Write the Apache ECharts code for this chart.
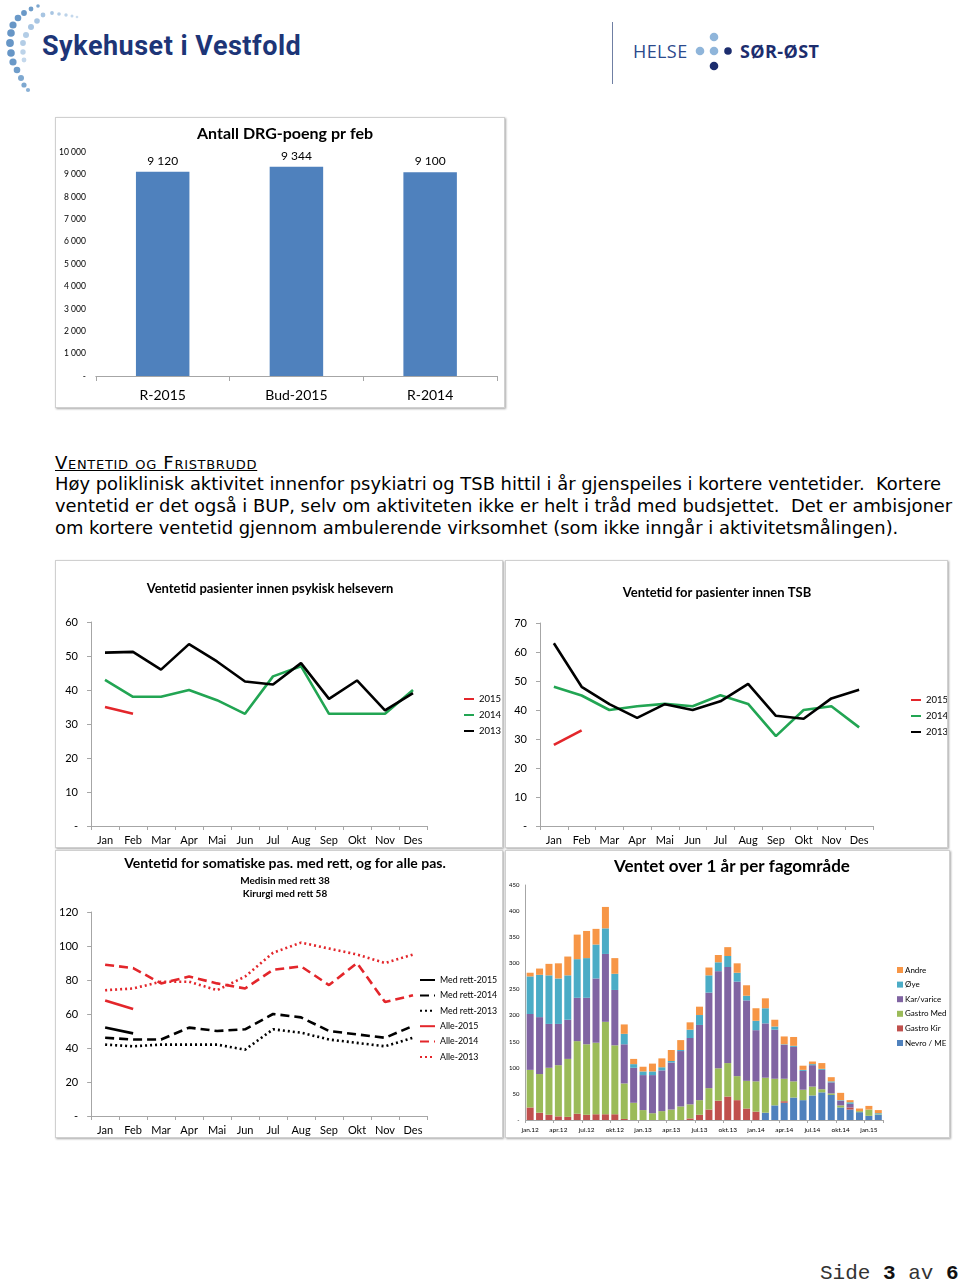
<!DOCTYPE html>
<html><head><meta charset="utf-8">
<script src="https://cdn.jsdelivr.net/npm/echarts@6/dist/echarts.min.js"></script>
<style>
html,body{margin:0;padding:0;background:#fff}
body{width:960px;height:1280px;position:relative;overflow:hidden;font-family:Lato,sans-serif}
.box{position:absolute;border:1px solid #d0d0d0;box-shadow:1px 1px 2px #a8a8a8;box-sizing:border-box;background:#fff}
.abs{position:absolute;white-space:pre}
</style></head><body>

<svg class="abs" style="left:0;top:0" width="90" height="100" id="logoDots"></svg>
<div class="abs" style="left:42px;top:30px;font:bold 27px Roboto,sans-serif;color:#1d3577;letter-spacing:0.5px">Sykehuset i Vestfold</div>
<div class="abs" style="left:612px;top:22px;width:1px;height:62px;background:#6f7fa3"></div>
<div class="abs" style="left:633px;top:40px;font:18px 'Open Sans',sans-serif;color:#2c4a8c;line-height:22px;letter-spacing:0.4px">HELSE</div>
<svg class="abs" style="left:690px;top:28px" width="50" height="48">
<circle cx="10" cy="23" r="4.3" fill="#8fb5da"/><circle cx="24" cy="23" r="4.3" fill="#8fb5da"/><circle cx="38" cy="23" r="3.8" fill="#1c2d6e"/>
<circle cx="24" cy="9" r="4.3" fill="#8fb5da"/><circle cx="24" cy="38" r="4.3" fill="#1c2d6e"/></svg>
<div class="abs" style="left:740px;top:40px;font:bold 18px 'Open Sans',sans-serif;color:#1c2d6e;line-height:22px;letter-spacing:0.4px">SØR-ØST</div>

<div class="box" id="c1" style="left:55px;top:117px;width:450px;height:291px"></div>

<div class="abs" style="left:55px;top:452px;font:18px 'DejaVu Sans',sans-serif;line-height:22px;color:#000;text-decoration:underline;font-variant:small-caps;letter-spacing:0.7px">Ventetid og Fristbrudd</div>
<div class="abs" id="para" style="left:55px;top:473px;font:17.9px 'DejaVu Sans',sans-serif;line-height:22px;color:#000">Høy poliklinisk aktivitet innenfor psykiatri og TSB hittil i år gjenspeiles i kortere ventetider.  Kortere
ventetid er det også i BUP, selv om aktiviteten ikke er helt i tråd med budsjettet.  Det er ambisjoner
om kortere ventetid gjennom ambulerende virksomhet (som ikke inngår i aktivitetsmålingen).</div>

<div class="box" id="c2" style="left:55px;top:560px;width:448px;height:288px"></div>
<div class="box" id="c3" style="left:505px;top:560px;width:443px;height:288px"></div>
<div class="box" id="c4" style="left:55px;top:850px;width:448px;height:288px"></div>
<div class="box" id="c5" style="left:505px;top:850px;width:445px;height:288px"></div>

<div class="abs" style="left:820px;top:1262px;font:21px 'Liberation Mono',monospace;color:#333">Side <b style="color:#111">3</b> av <b style="color:#111">6</b></div>

<script>
// ---- data ----
const drgCats = ['R-2015', 'Bud-2015', 'R-2014'];
const drgVals = [9120, 9344, 9100];

const months = ['Jan','Feb','Mar','Apr','Mai','Jun','Jul','Aug','Sep','Okt','Nov','Des'];

const psyk2015 = [35, 33];
const psyk2014 = [43, 38, 38, 40, 37, 33, 44, 47, 33, 33, 33, 40];
const psyk2013 = [51, 51.2, 46, 53.5, 48.4, 42.5, 41.6, 47.9, 37.4, 42.8, 34, 39.1];

const tsb2015 = [28, 33];
const tsb2014 = [48, 45, 40, 41.3, 42.1, 41.3, 45.1, 42.1, 31, 40, 41.3, 34];
const tsb2013 = [63, 48, 42, 37.3, 42, 40, 43, 49, 38, 37, 44, 47];

const medRett2015 = [52, 48.6];
const medRett2014 = [46, 45, 45, 52, 50, 51, 60, 58, 50, 48, 46, 53];
const medRett2013 = [42, 41, 42, 42, 42, 39, 51, 49, 45, 43, 41, 46];
const alle2015 = [68, 63];
const alle2014 = [89, 87, 78, 82, 78, 75, 86, 88, 77, 90, 67, 71];
const alle2013 = [74, 75, 79, 79, 74, 82, 96, 102, 98.5, 95, 90, 95];

const ventMonths = ['jan.12','feb.12','mar.12','apr.12','mai.12','jun.12','jul.12','aug.12','sep.12','okt.12','nov.12','des.12',
  'jan.13','feb.13','mar.13','apr.13','mai.13','jun.13','jul.13','aug.13','sep.13','okt.13','nov.13','des.13',
  'jan.14','feb.14','mar.14','apr.14','mai.14','jun.14','jul.14','aug.14','sep.14','okt.14','nov.14','des.14',
  'jan.15','feb.15'];
const nevroME   = [0,0,0,0,0,0,0,0,0,0,0,0, 0,0,0,0,0,0,0,0,0,0,0,0, 0,14,28,33,43,38,47,53,48,24,20,15, 8,10];
const gastroKir = [24,14,10,7,6,12,10,11,11,11,2,0, 0,0,0,0,0,3,10,20,37,45,38,22, 16,0,0,3,0,0,0,0,0,0,4,0, 0,0];
const gastroMed = [72,74,90,98,111,139,135,137,177,132,68,33, 19,13,17,20,26,27,28,41,62,64,46,53, 58,67,51,43,31,20,17,6,3,4,0,2, 12,1];
const karVarice = [107,109,84,79,75,83,89,123,130,106,75,67, 67,73,78,90,106,127,144,183,186,184,181,154, 98,104,94,65,66,36,41,37,21,9,7,0, 0,0];
const oye       = [72,81,93,87,85,74,76,65,49,31,20,7, 7,7,6,3,2,16,19,33,17,21,17,9, 18,29,6,1,2,2,2,2,2,1,3,0, 0,2];
const andre     = [7,12,22,29,36,47,52,30,41,30,18,10, 9,15,17,21,19,14,16,15,14,17,18,20, 24,19,13,15,17,8,5,11,8,14,4,5, 7,6];

// ---- logo decoration ----
(function(){
  const dots = [
    [38,6,1.8,'#7ea8d0'],[31,9,2.4,'#6f9dca'],[24,13,2.9,'#6a99c8'],[18,18,3.3,'#6a99c8'],[13,25,3.6,'#6796c6'],
    [11,33,3.8,'#6796c6'],[10,43,3.9,'#6796c6'],[11,53,3.8,'#6796c6'],[13,62,3.6,'#6a99c8'],[17,70,3.3,'#6f9dca'],
    [21,78,3,'#7ea8d0'],[24,85,2.6,'#7ea8d0'],[28,90,2.1,'#8bb1d6'],
    [43,15,2.4,'#a8c5e2'],[37,21,2.8,'#a8c5e2'],[31,27,3,'#a8c5e2'],[26,35,3,'#b3cde6'],[23,43,2.9,'#b3cde6'],
    [23,52,2.7,'#bcd3e9'],[24,60,2.4,'#c4d8ec'],
    [52,13,1.9,'#a8c5e2'],[59,14,1.8,'#b3cde6'],[66,15,1.7,'#bcd3e9'],[72,16,1.5,'#c4d8ec'],[77,17,1.3,'#cddeef']
  ];
  const svg = document.getElementById('logoDots');
  svg.innerHTML = dots.map(d => `<circle cx="${d[0]}" cy="${d[1]}" r="${d[2]}" fill="${d[3]}"/>`).join('');
})();

const FONT = 'Lato, sans-serif';
const axisGray = '#a6a6a6';
const thousand = v => v === 0 ? '-' : String(v).replace(/\B(?=(\d{3})+(?!\d))/g, ' ');
const dashZero = v => v === 0 ? '-' : v;

// ---- chart 1 ----
echarts.init(document.getElementById('c1')).setOption({
  animation: false,
  textStyle: { fontFamily: FONT },
  title: { text: 'Antall DRG-poeng pr feb', left: 224, textAlign: 'center', top: 3,
    textStyle: { fontSize: 16, fontWeight: 'bold', color: '#000', fontFamily: FONT } },
  grid: { left: 39, right: 7, top: 34, bottom: 31 },
  xAxis: { type: 'category', data: drgCats,
    axisLine: { lineStyle: { color: axisGray } },
    axisTick: { show: true, length: 5, lineStyle: { color: axisGray } },
    axisLabel: { fontSize: 14, color: '#000', margin: 12 } },
  yAxis: { type: 'value', min: 0, max: 10000, interval: 1000,
    axisLine: { show: false }, axisTick: { show: false }, splitLine: { show: false },
    axisLabel: { fontSize: 8.5, color: '#000', formatter: thousand, margin: 10 } },
  series: [{ type: 'bar', data: drgVals, barWidth: '40%', itemStyle: { color: '#4f81bd' },
    label: { show: true, position: 'top', fontSize: 12, color: '#000', distance: 5, formatter: p => thousand(p.value) } }]
});

// ---- line chart helper ----
function lineCommon(opts) {
  return {
    animation: false,
    textStyle: { fontFamily: FONT },
    grid: opts.grid,
    xAxis: { type: 'category', data: months, boundaryGap: true,
      axisLine: { lineStyle: { color: axisGray } },
      axisTick: { show: true, length: 4, lineStyle: { color: axisGray } },
      axisLabel: { fontSize: 11, color: '#000', margin: 9, interval: 0 } },
    yAxis: { type: 'value', min: 0, max: opts.max, interval: opts.interval,
      axisLine: { show: true, lineStyle: { color: axisGray } },
      axisTick: { show: true, length: 4, lineStyle: { color: axisGray } },
      splitLine: { show: false },
      axisLabel: { fontSize: 11, color: '#000', formatter: dashZero, margin: 13 } }
  };
}
const RED = '#e3262b', GREEN = '#22a553', BLACK = '#000';
function ls(name, data, color, type) {
  return { name, type: 'line', data, symbol: 'none', smooth: false,
    lineStyle: { color, width: 2.6, type: type || 'solid' }, itemStyle: { color } };
}
function lineLegend(left, top, names, gap, fs, iw) {
  return { orient: 'vertical', left, top, padding: 0, itemWidth: iw, itemHeight: 10, itemGap: gap,
    itemStyle: { opacity: 0 },
    textStyle: { fontSize: fs, color: '#000', lineHeight: 10, fontFamily: FONT }, data: names };
}

// ---- chart 2 ----
const o2 = lineCommon({ grid: { left: 35, right: 75, top: 61, bottom: 21 }, max: 60, interval: 10 });
o2.title = { text: 'Ventetid pasienter innen psykisk helsevern', left: 209, textAlign: 'center', top: 16,
  textStyle: { fontSize: 13, fontWeight: 'bold', color: '#000', fontFamily: FONT } };
o2.legend = lineLegend(407, 133, ['2015', '2014', '2013'], 6, 9.5, 10);
o2.series = [ls('2014', psyk2014, GREEN), ls('2013', psyk2013, BLACK), ls('2015', psyk2015, RED)];
echarts.init(document.getElementById('c2')).setOption(o2);

// ---- chart 3 ----
const o3 = lineCommon({ grid: { left: 34, right: 74, top: 62, bottom: 21 }, max: 70, interval: 10 });
o3.title = { text: 'Ventetid for pasienter innen TSB', left: 206, textAlign: 'center', top: 20,
  textStyle: { fontSize: 13, fontWeight: 'bold', color: '#000', fontFamily: FONT } };
o3.legend = lineLegend(404, 134, ['2015', '2014', '2013'], 6, 9.5, 10);
o3.series = [ls('2014', tsb2014, GREEN), ls('2013', tsb2013, BLACK), ls('2015', tsb2015, RED)];
echarts.init(document.getElementById('c3')).setOption(o3);

// ---- chart 4 ----
const o4 = lineCommon({ grid: { left: 35, right: 75, top: 61, bottom: 21 }, max: 120, interval: 20 });
o4.title = { text: 'Ventetid for somatiske pas. med rett, og for alle pas.', left: 224, textAlign: 'center', top: 0,
  subtext: 'Medisin med rett 38\nKirurgi med rett 58', itemGap: 4,
  textStyle: { fontSize: 14, fontWeight: 'bold', color: '#000', fontFamily: FONT },
  subtextStyle: { fontSize: 10, fontWeight: 'bold', color: '#000', lineHeight: 13, fontFamily: FONT } };
o4.legend = lineLegend(363, 124, ['Med rett-2015', 'Med rett-2014', 'Med rett-2013', 'Alle-2015', 'Alle-2014', 'Alle-2013'], 5.4, 8.8, 15);
o4.series = [
  ls('Alle-2013', alle2013, RED, [2, 3]),
  ls('Alle-2014', alle2014, RED, [9, 5]),
  ls('Alle-2015', alle2015, RED),
  ls('Med rett-2013', medRett2013, BLACK, [2, 3]),
  ls('Med rett-2014', medRett2014, BLACK, [9, 5]),
  ls('Med rett-2015', medRett2015, BLACK)
];
echarts.init(document.getElementById('c4')).setOption(o4);

// ---- chart 5 ----
const stackDefs = [
  ['Nevro / ME', nevroME, '#4f81bd'],
  ['Gastro Kir', gastroKir, '#c0504d'],
  ['Gastro Med', gastroMed, '#9bbb59'],
  ['Kar/varice', karVarice, '#8064a2'],
  ['Øye', oye, '#4bacc6'],
  ['Andre', andre, '#f79646']
];
echarts.init(document.getElementById('c5')).setOption({
  animation: false,
  textStyle: { fontFamily: FONT },
  title: { text: 'Ventet over 1 år per fagområde', left: 221, textAlign: 'center', top: 2,
    textStyle: { fontSize: 17, fontWeight: 'bold', color: '#000', fontFamily: FONT } },
  grid: { left: 19, right: 66, top: 34, bottom: 17 },
  legend: { orient: 'vertical', left: 386, top: 109, itemWidth: 6, itemHeight: 6, itemGap: 4.6, icon: 'rect',
    textStyle: { fontSize: 8, color: '#000', lineHeight: 10, padding: [0, 0, 0, -3] },
    data: ['Andre', 'Øye', 'Kar/varice', 'Gastro Med', 'Gastro Kir', 'Nevro / ME'] },
  xAxis: { type: 'category', data: ventMonths,
    axisLine: { lineStyle: { color: axisGray } },
    axisTick: { show: true, interval: 2, length: 3, lineStyle: { color: axisGray } },
    axisLabel: { fontSize: 6.5, color: '#000', interval: 2, margin: 6 } },
  yAxis: { type: 'value', min: 0, max: 450, interval: 50,
    axisLine: { show: true, lineStyle: { color: axisGray } },
    axisTick: { show: false }, splitLine: { show: false },
    axisLabel: { fontSize: 6, color: '#000', formatter: dashZero, margin: 6 } },
  series: stackDefs.map(d => ({ name: d[0], type: 'bar', stack: 'v', data: d[1], barWidth: 7,
    itemStyle: { color: d[2] } }))
});
</script>
</body></html>
